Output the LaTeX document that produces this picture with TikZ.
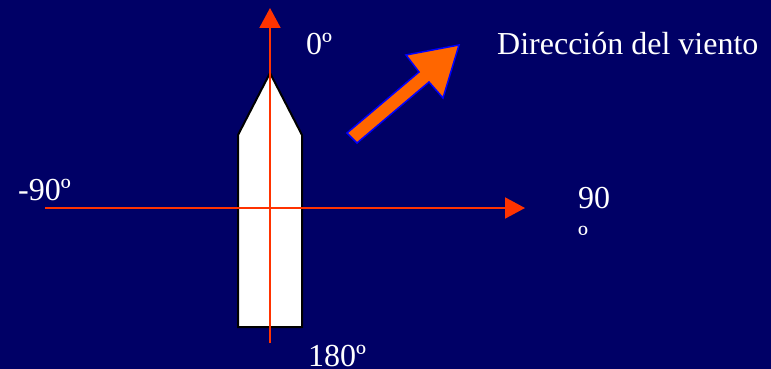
\documentclass[tikz,border=0pt]{standalone}
\usepackage{fontspec}
\setmainfont{Liberation Serif}
\usetikzlibrary{arrows.meta}
\definecolor{bgnavy}{RGB}{0,0,102}
\definecolor{axisred}{RGB}{255,51,0}
\definecolor{windorange}{RGB}{255,102,0}
\definecolor{windblue}{RGB}{0,0,255}
\begin{document}
\begin{tikzpicture}[x=1pt,y=-1pt,
  lbl/.style={text=white,inner sep=0pt,anchor=base west,font=\fontsize{32}{39}\selectfont},
  axis/.style={draw=axisred,line width=2pt,-{Triangle[length=20pt,width=21pt]}},
  boat/.style={fill=white,draw=black,line width=2pt,line join=miter},
  wind/.style={fill=windorange,draw=windblue,line width=1.5pt,line join=miter}]
\fill[bgnavy] (0,0) rectangle (771,369);
\useasboundingbox (0,0) rectangle (771,369);
% boat
\draw[boat] (238,327) -- (238,135) -- (270,73) -- (302,135) -- (302,327) -- cycle;
% axes
\coordinate (vbot) at (270,343);
\coordinate (vtop) at (270,8);
\coordinate (hleft) at (45,208);
\coordinate (hright) at (525,208);
\draw[axis] (vbot) -- (vtop);
\draw[axis] (hleft) -- (hright);
% wind arrow
\draw[wind] (347,133) -- (357,143) -- (429,82) -- (443,98) -- (459,45) -- (406,55) -- (419,72) -- cycle;
% labels
\node[lbl] (zero) at (306,55) {0º};
\node[lbl] (wind) at (497,55) {Dirección del viento};
\node[lbl] (mninety) at (18,200) {-90º};
\node[lbl,align=left] (ninety) at (578,247) {90\\º};
\node[lbl] (oneeighty) at (308,366) {180º};
\end{tikzpicture}
\end{document}
